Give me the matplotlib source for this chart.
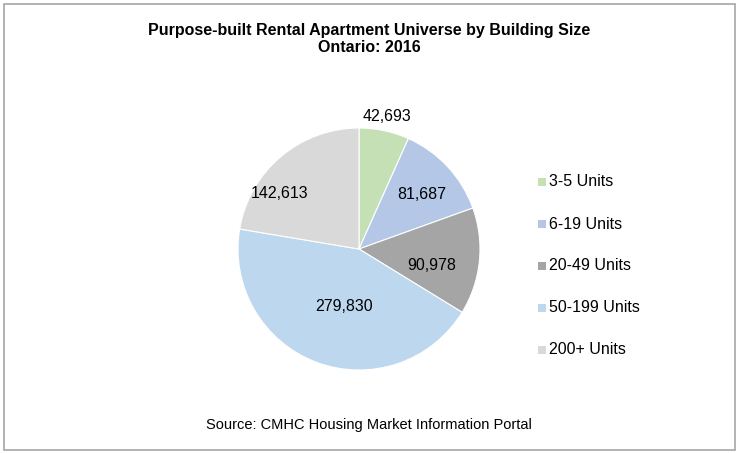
import numpy as np
import matplotlib
matplotlib.use('Agg')
import matplotlib.pyplot as plt
from matplotlib.patches import Rectangle

# data
categories = ['3-5 Units', '6-19 Units', '20-49 Units', '50-199 Units', '200+ Units']
units = [42693, 81687, 90978, 279830, 142613]
colors = ['#C5E0B4', '#B4C7E7', '#A5A5A5', '#BDD7EE', '#D9D9D9']

# where each value label sits (radius fraction, angle shift in degrees)
label_dist = [1.12, 0.69, 0.62, 0.49, 0.80]
label_shift = [0, -2, -7, 6, 15]

plt.rcParams['font.family'] = ['Liberation Sans', 'DejaVu Sans']

W, H = 738, 453
fig = plt.figure(figsize=(W/100, H/100), dpi=100)

# pie centre (359, 249) px, radius 121 px
cx, cy, r = 359, 249, 121
ax = fig.add_axes([(cx-r)/W, (H-cy-r)/H, 2*r/W, 2*r/H])
wedges, _ = ax.pie(units, colors=colors, startangle=90, counterclock=False,
                   radius=1, wedgeprops=dict(edgecolor='white', linewidth=0.8))
ax.set_xlim(-1, 1)
ax.set_ylim(-1, 1)
ax.set_aspect('equal')

for w, v, d, s in zip(wedges, units, label_dist, label_shift):
    ang = np.deg2rad((w.theta1 + w.theta2)/2 + s)
    ax.text(d*np.cos(ang), d*np.sin(ang), '{:,}'.format(v), ha='center', va='center',
            fontsize=11.5, color='black')

# title
fig.text(0.5, 1-30/H, 'Purpose-built Rental Apartment Universe by Building Size',
         ha='center', va='center', fontsize=11.5, fontweight='bold')
fig.text(0.5, 1-47/H, 'Ontario: 2016', ha='center', va='center', fontsize=11.5, fontweight='bold')

# legend
leg_y = [182, 224, 266, 308, 350]
for c, lab, y in zip(colors, categories, leg_y):
    fig.patches.append(Rectangle((538/W, 1-(y+4)/H), 8/W, 8/H, transform=fig.transFigure,
                                 facecolor=c, edgecolor='none'))
    fig.text(549/W, 1-y/H, lab, ha='left', va='center', fontsize=11.5)

fig.text(0.5, 1-425/H, 'Source: CMHC Housing Market Information Portal',
         ha='center', va='center', fontsize=10.5)

# outer frame
fig.patches.append(Rectangle((3.5/W, 3.5/H), (W-7)/W, (H-7)/H, transform=fig.transFigure,
                             facecolor='none', edgecolor='#A6A6A6', linewidth=1.2))

fig.savefig('out.png', dpi=100)
